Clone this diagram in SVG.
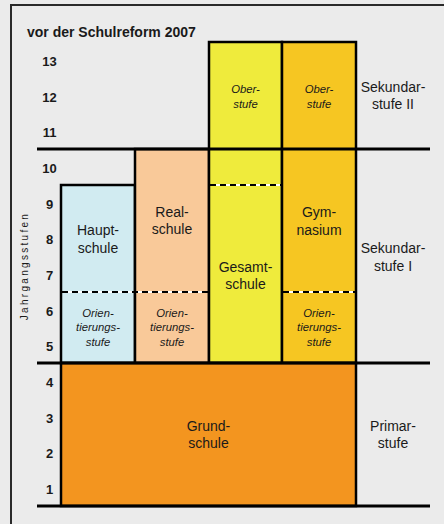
<svg xmlns="http://www.w3.org/2000/svg" width="444" height="524" viewBox="0 0 444 524">
<style>
.t{font-family:"Liberation Sans",Arial,sans-serif;fill:#1a1a1a}
.num{font-size:13px;font-weight:bold;text-anchor:middle}
.lbl{font-size:14px;text-anchor:middle}
.it{font-size:11.3px;font-style:italic;text-anchor:middle}
.box{stroke:#000;stroke-width:2.5}
.hl{stroke:#000;stroke-width:3}
.dw{stroke:#fff;stroke-width:2}
.db{stroke:#000;stroke-width:2;stroke-dasharray:6 4}
</style>
<rect width="444" height="524" fill="#ebebeb"/>
<path d="M11 524V5H444" fill="none" stroke="#2a2a2a" stroke-width="2"/>
<text class="t" x="27" y="37" font-size="14" font-weight="bold">vor der Schulreform 2007</text>
<g id="grades">
<text class="t num" x="49.5" y="66">13</text>
<text class="t num" x="49.5" y="101.7">12</text>
<text class="t num" x="49.5" y="137.3">11</text>
<text class="t num" x="49.5" y="173">10</text>
<text class="t num" x="49.5" y="208.7">9</text>
<text class="t num" x="49.5" y="244.3">8</text>
<text class="t num" x="49.5" y="280">7</text>
<text class="t num" x="49.5" y="315.7">6</text>
<text class="t num" x="49.5" y="351.3">5</text>
<text class="t num" x="49.5" y="387">4</text>
<text class="t num" x="49.5" y="422.7">3</text>
<text class="t num" x="49.5" y="458.3">2</text>
<text class="t num" x="49.5" y="494">1</text>
</g>
<text class="t" transform="translate(28,266) rotate(-90)" font-size="10" letter-spacing="2.3" text-anchor="middle">Jahrgangsstufen</text>
<g id="hauptschule">
<rect class="box" x="61" y="185" width="74" height="178" fill="#d1ebf1"/>
<text class="t lbl" x="98" y="235">Haupt-</text>
<text class="t lbl" x="98" y="253">schule</text>
<text class="t it" x="98" y="317">Orien-</text>
<text class="t it" x="98" y="331">tierungs-</text>
<text class="t it" x="98" y="346">stufe</text>
</g>
<g id="realschule">
<rect class="box" x="135" y="149" width="74" height="214" fill="#f9c999"/>
<text class="t lbl" x="172" y="217">Real-</text>
<text class="t lbl" x="172" y="234">schule</text>
<text class="t it" x="172" y="317">Orien-</text>
<text class="t it" x="172" y="331">tierungs-</text>
<text class="t it" x="172" y="346">stufe</text>
</g>
<g id="gesamtschule">
<rect class="box" x="209" y="42" width="73" height="321" fill="#efeb3c"/>
<text class="t it" x="245.5" y="93">Ober-</text>
<text class="t it" x="245.5" y="107.5">stufe</text>
<text class="t lbl" x="245.5" y="272">Gesamt-</text>
<text class="t lbl" x="245.5" y="289">schule</text>
</g>
<g id="gymnasium">
<rect class="box" x="282" y="42" width="74" height="321" fill="#f6c622"/>
<text class="t it" x="319" y="93">Ober-</text>
<text class="t it" x="319" y="107.5">stufe</text>
<text class="t lbl" x="319" y="217">Gym-</text>
<text class="t lbl" x="319" y="235">nasium</text>
<text class="t it" x="319" y="317">Orien-</text>
<text class="t it" x="319" y="331">tierungs-</text>
<text class="t it" x="319" y="346">stufe</text>
</g>
<g id="grundschule">
<rect class="box" x="61" y="363" width="295" height="143" fill="#f3951f"/>
<text class="t lbl" x="208.5" y="431">Grund-</text>
<text class="t lbl" x="208.5" y="448">schule</text>
</g>
<g id="connectors">
<path class="dw" d="M62 292H208M283 292H355M210 185H281"/>
<path class="db" d="M62 292H208M283 292H355M210 185H281"/>
<path class="hl" d="M37 149H430M37 363H430M37 506H430"/>
</g>
<g id="stages">
<text class="t lbl" x="393" y="92">Sekundar-</text>
<text class="t lbl" x="393" y="109">stufe II</text>
<text class="t lbl" x="393" y="253">Sekundar-</text>
<text class="t lbl" x="393" y="271">stufe I</text>
<text class="t lbl" x="393" y="431">Primar-</text>
<text class="t lbl" x="393" y="448">stufe</text>
</g>
</svg>
